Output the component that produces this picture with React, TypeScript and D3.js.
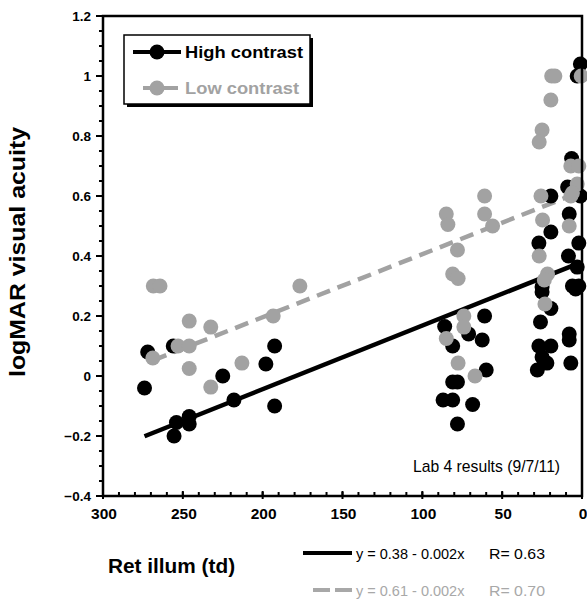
import React from "react";
import * as d3 from "d3";

const highX = [274, 272, 256, 254, 255.5, 246, 246, 225, 218, 198, 192.5, 192.5,
  86, 81, 71, 61, 62.5, 60, 81, 78, 87, 81, 68.5, 78,
  19.5, 19.5, 27, 25, 25, 19.5, 26, 27, 19.5, 25, 22, 28,
  8, 2, 8.5, 3, 6, 2, 4, 8, 8, 7, 1, 9, 6.5, 1, 3];
const highY = [-0.04, 0.08, 0.10, -0.155, -0.2, -0.135, -0.16, 0, -0.08, 0.04, 0.10, -0.10,
  0.165, 0.10, 0.14, 0.20, 0.12, 0.02, -0.02, -0.02, -0.08, -0.08, -0.095, -0.16,
  0.60, 0.48, 0.443, 0.297, 0.28, 0.225, 0.18, 0.10, 0.10, 0.063, 0.043, 0.02,
  0.54, 0.443, 0.40, 0.363, 0.30, 0.30, 0.29, 0.14, 0.12, 0.043, 0.60, 0.63, 0.725, 1.04, 1.0];

const lowX = [268.5, 264.3, 268.8, 253, 246, 246, 246, 232.5, 232.5, 213, 193.4, 176.7,
  85, 84, 61, 61, 56, 78, 81, 77.6, 74, 74, 85, 77.6, 67,
  25.7, 24.7, 26.8, 21.6, 23.6, 23.2, 19, 17, 19.5, 25, 26.8,
  8, 7, 0.5, 7, 2, 3, 6];
const lowY = [0.30, 0.30, 0.06, 0.10, 0.183, 0.10, 0.025, 0.163, -0.037, 0.043, 0.20, 0.30,
  0.54, 0.505, 0.60, 0.54, 0.50, 0.42, 0.34, 0.325, 0.20, 0.163, 0.125, 0.043, 0.0,
  0.60, 0.52, 0.40, 0.34, 0.32, 0.24, 1.0, 1.0, 0.92, 0.82, 0.78,
  0.50, 0.60, 1.0, 0.70, 0.70, 0.64, 0.61];

// fit lines: [intercept, slope], drawn over [xStart, xEnd]
const highFit = [0.38, -0.00212];
const lowFit = [0.616, -0.0021];
const highFitRange = [274, 1];
const lowFitRange = [268.5, 1];

const yMajorTicks = [-0.4, -0.2, 0, 0.2, 0.4, 0.6, 0.8, 1, 1.2];
const xMajorTicks = [300, 250, 200, 150, 100, 50, 0];
const seriesNames = ["High contrast", "Low contrast"];
const eqLabels = ["y = 0.38 - 0.002x", "y = 0.61 - 0.002x"];
const rLabels = ["R= 0.63", "R= 0.70"];

const GRAY = "#a2a2a2";
const EQGRAY = "#a8a8a8";
const FONT = "'Liberation Sans', Arial, Helvetica, sans-serif";

export default function App() {
  const x = d3.scaleLinear().domain([300, 0]).range([103, 582]);
  const y = d3.scaleLinear().domain([-0.4, 1.2]).range([496, 16]);
  const yMinor = d3.range(-0.4, 1.2001, 0.05).map((v) => +v.toFixed(2));
  const xMinor = d3.range(0, 300.1, 10);
  const fmtY = (v: number) => (v === 0 ? "0" : v === 1 ? "1" : d3.format("")(+v.toFixed(1)));

  const fitLine = (fit: number[], r: number[]) =>
    d3.line<number>().x((d) => x(d)).y((d) => y(fit[0] + fit[1] * d))(r) || "";

  const x0 = x(300), x1 = x(0), yb = y(-0.4), yt = y(1.2);

  return (
    <svg width={587} height={599} style={{ position: "absolute", left: 0, top: 0, background: "#fff" }}
      fontFamily={FONT}>
      <rect width={587} height={599} fill="#fff" />
      {/* fit lines */}
      <path d={fitLine(lowFit, lowFitRange)} stroke={GRAY} strokeWidth={4.5} strokeDasharray="14 8" fill="none" />
      <path d={fitLine(highFit, highFitRange)} stroke="#000" strokeWidth={4.5} fill="none" />
      {/* points */}
      {highX.map((v, i) => (
        <circle key={"h" + i} cx={x(v)} cy={y(highY[i])} r={7.5} fill="#000" />
      ))}
      {lowX.map((v, i) => (
        <circle key={"l" + i} cx={x(v)} cy={y(lowY[i])} r={7.5} fill={GRAY} />
      ))}
      {/* frame */}
      <path d={`M${x0},${yt}H${x1}V${yb}H${x0}Z`} fill="none" stroke="#000" strokeWidth={2.5} />
      {/* y ticks */}
      {yMinor.map((v, i) => (
        <line key={"ym" + i} x1={x0 - 4} x2={x0} y1={y(v)} y2={y(v)} stroke="#000" strokeWidth={2} />
      ))}
      {yMajorTicks.map((v) => (
        <g key={"yM" + v}>
          <line x1={x0 - 7} x2={x0} y1={y(v)} y2={y(v)} stroke="#000" strokeWidth={2} />
          <text x={91} y={y(v)} dy="0.35em" textAnchor="end" fontSize={13.5} fontWeight="bold">
            {fmtY(v)}
          </text>
        </g>
      ))}
      {/* x ticks */}
      {xMinor.map((v) => (
        <line key={"xm" + v} x1={x(v)} x2={x(v)} y1={yb - 4} y2={yb} stroke="#000" strokeWidth={2} />
      ))}
      {xMajorTicks.map((v) => (
        <g key={"xM" + v}>
          <line x1={x(v)} x2={x(v)} y1={yb - 5} y2={yb + 3} stroke="#000" strokeWidth={2} />
          <text x={x(v) + 1} y={519} textAnchor="middle" fontSize={15.5} fontWeight="bold">
            {v}
          </text>
        </g>
      ))}
      {/* axis titles */}
      <text transform="translate(25,252) rotate(-90)" textAnchor="middle" fontSize={22} fontWeight="bold"
        textLength={250} lengthAdjust="spacingAndGlyphs">
        logMAR visual acuity
      </text>
      <text x={108} y={573} fontSize={20.8} fontWeight="bold">Ret illum (td)</text>
      <text x={413} y={472} fontSize={15.7}>Lab 4 results (9/7/11)</text>
      {/* legend box */}
      <rect x={127} y={38} width={186} height={69} fill="#000" />
      <rect x={124} y={35} width={186} height={69} fill="#fff" stroke="#000" strokeWidth={1.5} />
      <line x1={133} x2={181} y1={52} y2={52} stroke="#000" strokeWidth={4} />
      <circle cx={157} cy={52} r={7.5} fill="#000" />
      <text x={185} y={58} fontSize={16.5} fontWeight="bold" textLength={118} lengthAdjust="spacingAndGlyphs">
        {seriesNames[0]}
      </text>
      <line x1={143} x2={178} y1={88} y2={88} stroke={GRAY} strokeWidth={4} />
      <circle cx={157} cy={88} r={7.5} fill={GRAY} />
      <text x={185} y={94} fontSize={16.5} fontWeight="bold" fill={GRAY} textLength={114} lengthAdjust="spacingAndGlyphs">
        {seriesNames[1]}
      </text>
      {/* equation legend */}
      <line x1={303} x2={352} y1={553} y2={553} stroke="#000" strokeWidth={4} />
      <text x={356} y={559} fontSize={14.5}>{eqLabels[0]}</text>
      <text x={489} y={559} fontSize={14.5} textLength={56} lengthAdjust="spacingAndGlyphs">{rLabels[0]}</text>
      <line x1={313} x2={352} y1={590} y2={590} stroke={EQGRAY} strokeWidth={4} strokeDasharray="17 5" />
      <text x={356} y={596} fontSize={14.5} fill={EQGRAY}>{eqLabels[1]}</text>
      <text x={489} y={596} fontSize={14.5} fill={EQGRAY} textLength={56} lengthAdjust="spacingAndGlyphs">{rLabels[1]}</text>
    </svg>
  );
}
